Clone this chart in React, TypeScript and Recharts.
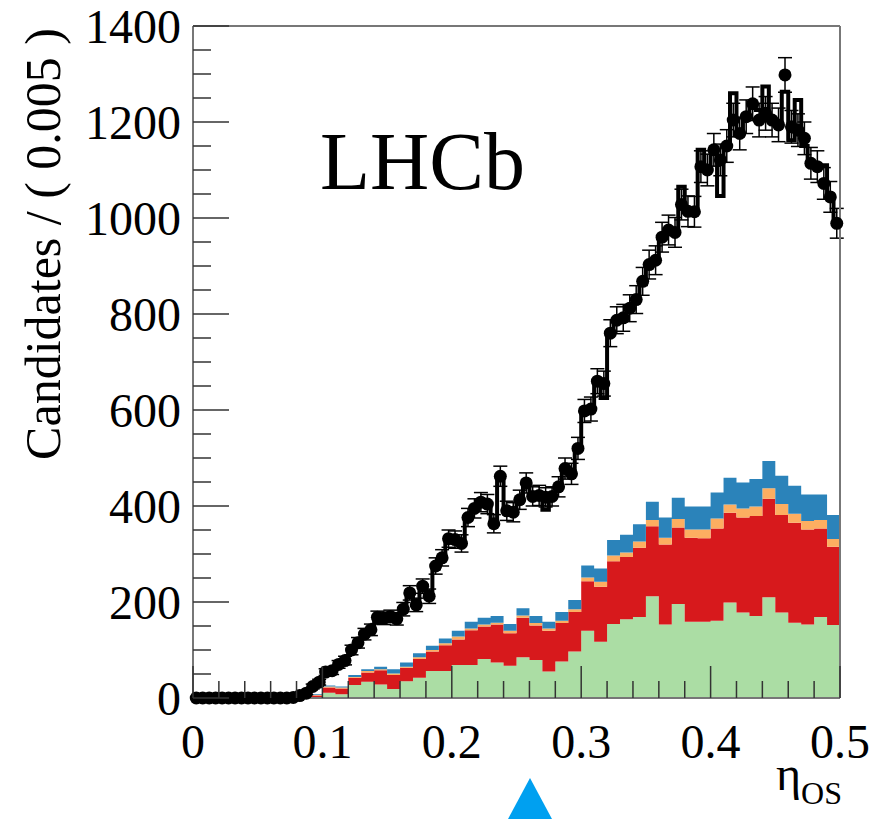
import React from 'react';
import { ComposedChart, Area, Line, Scatter, XAxis, YAxis, ErrorBar, ReferenceLine } from 'recharts';

// Data points: counts per 0.005 bin of eta_OS (100 bins, 0 .. 0.5)
const dataCounts = [
  0, 0, 0, 0, 0, 0, 0, 0, 0, 0,
  0, 0, 0, 0, 0, 1, 5, 10, 24, 33,
  54, 57, 70, 78, 100, 115, 133, 142, 168, 166,
  170, 165, 185, 219, 194, 233, 212, 275, 292, 332,
  330, 322, 376, 395, 408, 404, 363, 462, 390, 387,
  413, 448, 420, 422, 418, 420, 440, 478, 467, 520,
  598, 602, 660, 655, 760, 787, 792, 812, 830, 868,
  903, 912, 960, 975, 970, 1028, 1014, 1013, 1107, 1100,
  1142, 1121, 1150, 1204, 1176, 1211, 1238, 1204, 1218, 1204,
  1194, 1298, 1190, 1183, 1166, 1114, 1107, 1072, 1044, 989,
];

const dataErrors = [
  0, 0, 0, 0, 0, 0, 0, 0, 0, 0,
  0, 0, 0, 0, 0, 1, 2, 3, 5, 6,
  7, 8, 8, 9, 10, 11, 12, 12, 13, 13,
  13, 13, 14, 15, 14, 15, 15, 17, 17, 18,
  18, 18, 19, 20, 20, 20, 19, 21, 20, 20,
  20, 21, 20, 21, 20, 20, 21, 22, 22, 23,
  24, 25, 26, 26, 28, 28, 28, 28, 29, 29,
  30, 30, 31, 31, 31, 32, 32, 32, 33, 33,
  34, 33, 34, 35, 34, 35, 35, 35, 35, 35,
  35, 36, 34, 34, 34, 33, 33, 33, 32, 31,
];

// Black step histogram (same 0.005 binning)
const modelCounts = [
  0, 0, 0, 0, 0, 0, 0, 0, 0, 0,
  0, 0, 0, 0, 0, 1, 4, 10, 20, 32,
  48, 58, 68, 80, 98, 115, 130, 145, 165, 168,
  168, 168, 188, 215, 198, 230, 215, 270, 295, 330,
  332, 325, 372, 392, 408, 402, 368, 458, 392, 390,
  410, 445, 420, 420, 392, 420, 438, 475, 470, 518,
  595, 605, 655, 625, 760, 785, 790, 815, 830, 862,
  905, 912, 958, 975, 972, 1065, 1012, 1015, 1142, 1100,
  1140, 1046, 1150, 1260, 1172, 1210, 1235, 1225, 1274, 1200,
  1192, 1263, 1162, 1246, 1150, 1110, 1110, 1110, 1045, 990,
];

// Stacked components per 0.01 bin (50 bins)
const greenCounts = [
  0, 0, 0, 0, 0, 0, 0, 0, 0, 1,
  11, 8, 27, 34, 28, 19, 35, 42, 56, 56,
  69, 69, 81, 74, 67, 85, 79, 55, 76, 97,
  140, 117, 154, 164, 169, 212, 153, 196, 159, 159,
  161, 199, 178, 171, 210, 178, 157, 153, 169, 152,
];
const redCounts = [
  0, 0, 0, 0, 0, 0, 0, 0, 3, 4,
  11, 12, 15, 19, 30, 29, 28, 39, 41, 54,
  53, 72, 68, 79, 68, 82, 72, 85, 80, 82,
  103, 115, 131, 130, 144, 146, 167, 159, 175, 174,
  192, 187, 198, 208, 205, 203, 208, 198, 184, 163,
];
const orangeCounts = [
  0, 0, 0, 0, 0, 0, 0, 0, 0, 1,
  2, 2, 2, 3, 2, 3, 2, 4, 3, 4,
  6, 4, 4, 4, 5, 5, 5, 5, 5, 6,
  8, 10, 12, 9, 13, 13, 14, 18, 17, 18,
  21, 17, 19, 20, 22, 23, 19, 18, 18, 16,
];
const blueCounts = [
  0, 0, 0, 0, 0, 0, 0, 0, 1, 2,
  2, 2, 4, 4, 5, 9, 9, 8, 9, 10,
  12, 14, 14, 14, 14, 15, 15, 14, 18, 19,
  25, 28, 32, 37, 36, 38, 42, 44, 48, 48,
  54, 56, 54, 57, 57, 59, 58, 55, 53, 50,
];

const xTicks = [
  0, 0.02, 0.04, 0.06, 0.08, 0.1, 0.12, 0.14, 0.16, 0.18,
  0.2, 0.22, 0.24, 0.26, 0.28, 0.3, 0.32, 0.34, 0.36, 0.38,
  0.4, 0.42, 0.44, 0.46, 0.48, 0.5,
];
const xMajorLabels = ['0', '0.1', '0.2', '0.3', '0.4', '0.5'];
const yTicks = [
  0, 50, 100, 150, 200, 250, 300, 350, 400, 450, 500, 550, 600, 650, 700,
  750, 800, 850, 900, 950, 1000, 1050, 1100, 1150, 1200, 1250, 1300, 1350, 1400,
];

const BIN = 0.005;
const NB = dataCounts.length;

const histRows = Array.from({ length: NB + 1 }, (_, i) => {
  const b = Math.min(i, NB - 1);
  const s = Math.min(Math.floor(i / 2), greenCounts.length - 1);
  return {
    x: i * BIN,
    model: modelCounts[b],
    green: greenCounts[s],
    red: redCounts[s],
    orange: orangeCounts[s],
    blue: blueCounts[s],
  };
});

const points = dataCounts.map((v, i) => ({ x: (i + 0.5) * BIN, y: v, err: dataErrors[i] }));

const FONT = '"Liberation Serif", "Times New Roman", serif';

const YTick = (props: any) => {
  const { x, y, payload } = props;
  const v = payload.value;
  const major = v % 200 === 0;
  return (
    <g>
      <line x1={x} x2={x + (major ? 36 : 18)} y1={y} y2={y} stroke="#333" strokeWidth={1.5} />
      {major && (
        <text x={x - 12} y={y} dy="0.35em" textAnchor="end" fontFamily={FONT} fontSize={48} fill="#000">
          {v}
        </text>
      )}
    </g>
  );
};

const XTick = (props: any) => {
  const { x, y, payload } = props;
  const v = payload.value;
  const k = Math.round(v * 10);
  const major = Math.abs(v * 10 - k) < 1e-6;
  return (
    <g>
      <line x1={x} x2={x} y1={y} y2={y - (major ? 32 : 17)} stroke="#333" strokeWidth={1.5} />
      {major && (
        <text x={x} y={y + 60} textAnchor="middle" fontFamily={FONT} fontSize={48} fill="#000">
          {xMajorLabels[k]}
        </text>
      )}
    </g>
  );
};

const DataDot = (props: any) => {
  const { cx, cy } = props;
  if (cx == null || cy == null) return null;
  return <circle cx={cx} cy={cy} r={6.5} fill="#000" />;
};

export default function App() {
  return (
    <div style={{ position: 'absolute', left: 0, top: 0, width: 875, height: 819, background: '#fff' }}>
      <ComposedChart
        width={875}
        height={819}
        data={histRows}
        margin={{ top: 26, right: 35, bottom: 81, left: 0 }}
      >
        <Area type="stepAfter" dataKey="green" stackId="s" fill="#abdda4" fillOpacity={1} stroke="none" isAnimationActive={false} />
        <Area type="stepAfter" dataKey="red" stackId="s" fill="#d7191c" fillOpacity={1} stroke="none" isAnimationActive={false} />
        <Area type="stepAfter" dataKey="orange" stackId="s" fill="#fdae61" fillOpacity={1} stroke="none" isAnimationActive={false} />
        <Area type="stepAfter" dataKey="blue" stackId="s" fill="#2b83ba" fillOpacity={1} stroke="none" isAnimationActive={false} />
        <Line type="stepAfter" dataKey="model" stroke="#000" strokeWidth={4} dot={false} isAnimationActive={false} />
        <Scatter data={points} dataKey="y" shape={DataDot} isAnimationActive={false}>
          <ErrorBar dataKey="err" direction="y" width={7} stroke="#000" strokeWidth={1.5} />
        </Scatter>
        <ReferenceLine y={1400} stroke="#777" strokeWidth={2} />
        <ReferenceLine x={0.5} stroke="#777" strokeWidth={2} />
        <XAxis
          dataKey="x"
          type="number"
          domain={[0, 0.5]}
          ticks={xTicks}
          interval={0}
          height={40}
          tickSize={0}
          tickMargin={0}
          tickLine={false}
          axisLine={{ stroke: '#777', strokeWidth: 2 }}
          tick={<XTick />}
        />
        <YAxis
          type="number"
          domain={[0, 1400]}
          ticks={yTicks}
          interval={0}
          width={193}
          tickSize={0}
          tickMargin={0}
          tickLine={false}
          axisLine={{ stroke: '#777', strokeWidth: 2 }}
          tick={<YTick />}
        />
      </ComposedChart>
      <svg width={875} height={819} style={{ position: 'absolute', left: 0, top: 0, pointerEvents: 'none' }}>
        <text x={320} y={189} fontFamily={FONT} fontSize={82} fill="#000">LHCb</text>
        <text transform="translate(60,28) rotate(-90)" textAnchor="end" fontFamily={FONT} fontSize={50} fill="#000">
          Candidates / ( 0.005 )
        </text>
        <text x={842} y={790} textAnchor="end" fontFamily={FONT} fontSize={48} fill="#000">
          η<tspan fontSize={32} dy={14}>OS</tspan>
        </text>
        <polygon points="530,778 508,819 552,819" fill="#00a0f0" />
      </svg>
    </div>
  );
}
